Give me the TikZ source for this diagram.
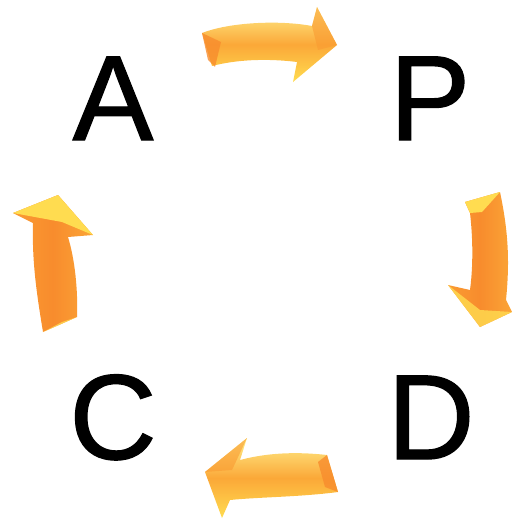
\documentclass[tikz,border=0pt]{standalone}
\usepackage{fontspec}
\setmainfont{Liberation Sans}
\newfontfamily\letterfont[FakeBold=1]{Liberation Sans}
\definecolor{arOrange}{RGB}{250,155,50}
\definecolor{arYellow}{RGB}{255,220,80}
\definecolor{arLight}{RGB}{255,240,140}
\definecolor{arDeep}{RGB}{248,140,45}
\begin{document}
\begin{tikzpicture}[x=1pt,y=-1pt,
  letter/.style={inner sep=0pt,anchor=base,font=\letterfont\fontsize{121}{121}\selectfont},
  hshade/.style={top color=arLight,bottom color=arYellow,middle color=arOrange!80!arYellow},
  vshade/.style={left color=arOrange,right color=arOrange!85!arYellow,middle color=arDeep},
  facet/.style={fill=arDeep,draw=none}]
\useasboundingbox (0,0) rectangle (513,519);
\node[letter] (A) at (113,140) {A};
\node[letter] (P) at (430,140) {P};
\node[letter] (C) at (113,459) {C};
\node[letter] (D) at (431,459) {D};
% top arrow (A -> P)
\shade[hshade] (202,33) .. controls (230,22) and (280,20) .. (312,26) -- (317,7) -- (337,45) -- (293,82) -- (297,62) .. controls (265,58) and (235,60) .. (212,66) -- cycle;
\fill[arDeep,opacity=0.8] (202,33) -- (221,42) -- (215,67) -- (208,60) -- cycle;
\fill[arOrange,opacity=0.6] (312,26) -- (317,7) -- (337,45) -- (318,50) -- cycle;
% right arrow (P -> D)
\shade[vshade] (465,202) -- (500,192) .. controls (508,230) and (510,260) .. (506,300) -- (512,312) -- (480,327) -- (448,285) -- (470,290) .. controls (474,260) and (472,230) .. (470,213) -- cycle;
\fill[arYellow] (465,202) -- (500,192) -- (482,212) -- (470,213) -- cycle;
\fill[arYellow,opacity=0.8] (448,285) -- (480,327) -- (512,312) -- (480,310) -- cycle;
% bottom arrow (D -> C)
\shade[hshade] (205,472) -- (247,438) -- (240,460) .. controls (270,452) and (300,452) .. (327,455) -- (338,492) .. controls (300,497) and (260,497) .. (230,500) -- (222,518) -- cycle;
\fill[arDeep,opacity=0.8] (327,455) -- (338,492) -- (325,487) -- (318,462) -- cycle;
\fill[arOrange,opacity=0.6] (205,472) -- (247,438) -- (232,470) -- cycle;
% left arrow (C -> A)
\shade[vshade] (58,195) -- (93,235) -- (68,237) .. controls (75,260) and (78,290) .. (77,317) -- (43,332) .. controls (36,290) and (32,260) .. (33,223) -- (13,213) -- cycle;
\fill[arYellow] (13,213) -- (58,195) -- (93,235) -- (62,222) -- cycle;
\fill[arYellow,opacity=0.8] (43,332) -- (77,317) -- (62,322) -- cycle;
\end{tikzpicture}
\end{document}
